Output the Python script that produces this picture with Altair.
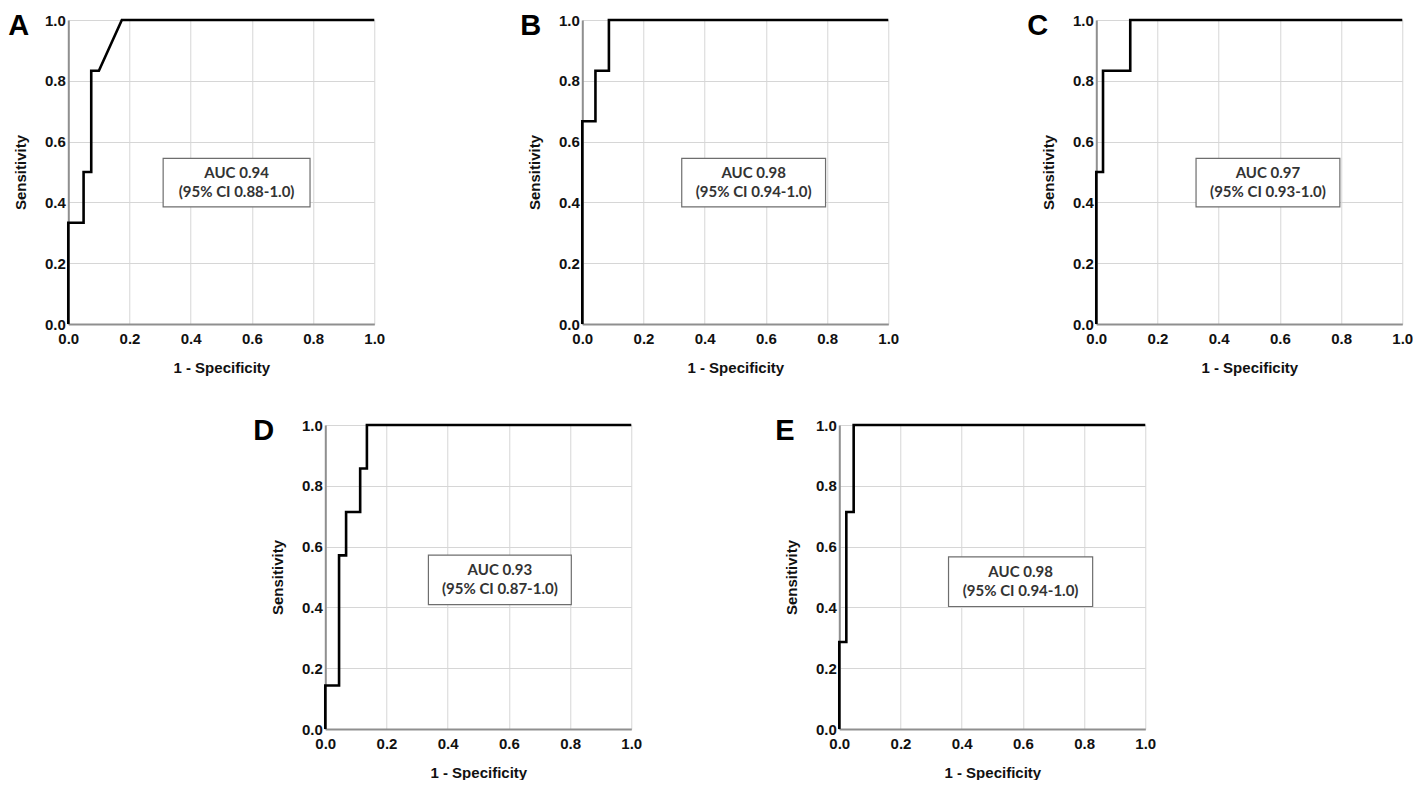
import altair as alt
import pandas as pd

# ---------------- data ----------------
panel_keys = ["A", "B", "C", "D", "E"]

fpr_a = [0.0, 0.0, 0.05, 0.05, 0.075, 0.075, 0.1, 0.175, 1.0]
tpr_a = [0.0, 0.333, 0.333, 0.5, 0.5, 0.833, 0.833, 1.0, 1.0]

fpr_b = [0.0, 0.0, 0.043, 0.043, 0.087, 0.087, 1.0]
tpr_b = [0.0, 0.667, 0.667, 0.833, 0.833, 1.0, 1.0]

fpr_c = [0.0, 0.0, 0.022, 0.022, 0.111, 0.111, 1.0]
tpr_c = [0.0, 0.5, 0.5, 0.833, 0.833, 1.0, 1.0]

fpr_d = [0.0, 0.0, 0.045, 0.045, 0.068, 0.068, 0.114, 0.114, 0.136, 0.136, 1.0]
tpr_d = [0.0, 0.143, 0.143, 0.571, 0.571, 0.714, 0.714, 0.857, 0.857, 1.0, 1.0]

fpr_e = [0.0, 0.0, 0.023, 0.023, 0.047, 0.047, 1.0]
tpr_e = [0.0, 0.286, 0.286, 0.714, 0.714, 1.0, 1.0]

auc_labels = ["AUC 0.94", "AUC 0.98", "AUC 0.97", "AUC 0.93", "AUC 0.98"]
ci_labels = ["(95% CI 0.88-1.0)", "(95% CI 0.94-1.0)", "(95% CI 0.93-1.0)",
             "(95% CI 0.87-1.0)", "(95% CI 0.94-1.0)"]

tick_values = [0.0, 0.2, 0.4, 0.6, 0.8, 1.0]

# ---------------- layout / style ----------------
W, H = 306, 304
FONT = "Liberation Sans"
# annotation box extents in data units (x0, x1, y0, y1)
box_ext = {
    "A": (0.310, 0.790, 0.385, 0.545),
    "B": (0.325, 0.795, 0.385, 0.545),
    "C": (0.326, 0.796, 0.385, 0.545),
    "D": (0.337, 0.804, 0.409, 0.572),
    "E": (0.357, 0.828, 0.403, 0.566),
}
letter_dx = {"A": -60, "B": -62, "C": -69, "D": -72, "E": -64}

xscale = alt.Scale(domain=[0, 1], nice=False)
yscale = alt.Scale(domain=[0, 1], nice=False)
xaxis = alt.Axis(values=tick_values, format=".1f", title="1 - Specificity",
                 labelPadding=7, titlePadding=14)
yaxis = alt.Axis(values=tick_values, format=".1f", title="Sensitivity",
                 labelPadding=3, titlePadding=16)


def panel(key, fpr, tpr, auc, ci):
    df = pd.DataFrame({"fpr": fpr, "tpr": tpr, "i": list(range(len(fpr)))})
    x0, x1, y0, y1 = box_ext[key]
    box_df = pd.DataFrame({"bx": [x0], "bx2": [x1], "by": [y0], "by2": [y1],
                           "cx": [(x0 + x1) / 2], "cy": [(y0 + y1) / 2],
                           "t": [auc + "\n" + ci]})

    line = alt.Chart(df).mark_line(color="black", strokeWidth=2.6,
                                   strokeJoin="miter", clip=False).encode(
        x=alt.X("fpr:Q", scale=xscale, axis=xaxis),
        y=alt.Y("tpr:Q", scale=yscale, axis=yaxis),
        order=alt.Order("i:Q"),
    )
    box = alt.Chart(box_df).mark_rect(fill="white", stroke="#6e6e6e",
                                      strokeWidth=1.2).encode(
        x=alt.X("bx:Q", scale=xscale, axis=xaxis),
        x2="bx2:Q",
        y=alt.Y("by:Q", scale=yscale, axis=yaxis),
        y2="by2:Q",
    )
    txt = alt.Chart(box_df).mark_text(font="Lato", fontWeight="bold", fontSize=15,
                                      color="#333333", lineBreak="\n",
                                      lineHeight=19, baseline="middle",
                                      align="center", dy=-9.5).encode(
        x=alt.X("cx:Q", scale=xscale, axis=xaxis),
        y=alt.Y("cy:Q", scale=yscale, axis=yaxis),
        text="t:N",
    )
    letter = alt.Chart(pd.DataFrame({"k": [key]})).mark_text(
        font=FONT, fontWeight="bold", fontSize=29, color="black",
        align="left", baseline="top").encode(
        x=alt.value(letter_dx[key]), y=alt.value(-8), text="k:N")
    return alt.layer(box, line, txt, letter).properties(width=W, height=H)


fprs = [fpr_a, fpr_b, fpr_c, fpr_d, fpr_e]
tprs = [tpr_a, tpr_b, tpr_c, tpr_d, tpr_e]
charts = [panel(k, f, t, a, c) for k, f, t, a, c in
          zip(panel_keys, fprs, tprs, auc_labels, ci_labels)]

top = alt.hconcat(charts[0], charts[1], charts[2], spacing=208, bounds="flush")
bottom = alt.hconcat(charts[3], charts[4], spacing=208, bounds="flush")

chart = alt.vconcat(top, bottom, spacing=42, center=True).properties(
    padding={"top": 4, "left": 0, "right": 0, "bottom": 0}
).configure_view(stroke=None).configure_axis(
    labelFont=FONT, labelFontSize=15, labelFontWeight="bold", labelColor="#111111",
    titleFont=FONT, titleFontSize=15, titleFontWeight="bold", titleColor="#111111",
    grid=True, gridColor="#d6d6d6", gridWidth=1,
    domainColor="#8f8f8f", domainWidth=2, ticks=False,
    labelOverlap=False, labelFlush=False,
)

chart.save("out.html", embed_options={"renderer": "svg", "actions": False})
